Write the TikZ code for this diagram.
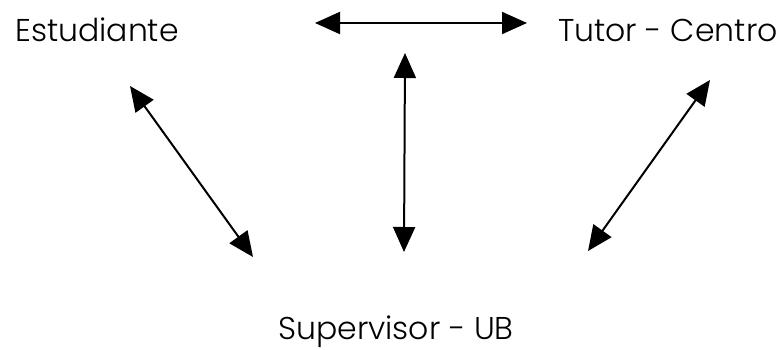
\documentclass[tikz,border=0pt]{standalone}
\usepackage{fontspec}
\setmainfont{Poppins Light}
\usetikzlibrary{arrows.meta}
\begin{document}
\begin{tikzpicture}[x=1pt,y=1pt,
  lbl/.style={inner sep=0pt,anchor=base west,font=\fontsize{31.5}{36}\selectfont},
  dbl/.style={line width=2pt,{Triangle[length=25pt,width=22pt]}-{Triangle[length=25pt,width=22pt]}}]
\useasboundingbox (0,0) rectangle (784,349);
\node[lbl] (est) at (15,307) {Estudiante};
\node[lbl] (tut) at (558,307) {Tutor - Centro};
\node[lbl] (sup) at (278,10) {Supervisor - UB};
\coordinate (h1) at (315,326);
\coordinate (h2) at (527,326);
\coordinate (v1) at (405,296);
\coordinate (v2) at (404,97);
\coordinate (l1) at (130,263);
\coordinate (l2) at (253,92);
\coordinate (r1) at (710,269);
\coordinate (r2) at (588,98);
\draw[dbl] (h1) -- (h2);
\draw[dbl] (v1) -- (v2);
\draw[dbl] (l1) -- (l2);
\draw[dbl] (r1) -- (r2);
\end{tikzpicture}
\end{document}
